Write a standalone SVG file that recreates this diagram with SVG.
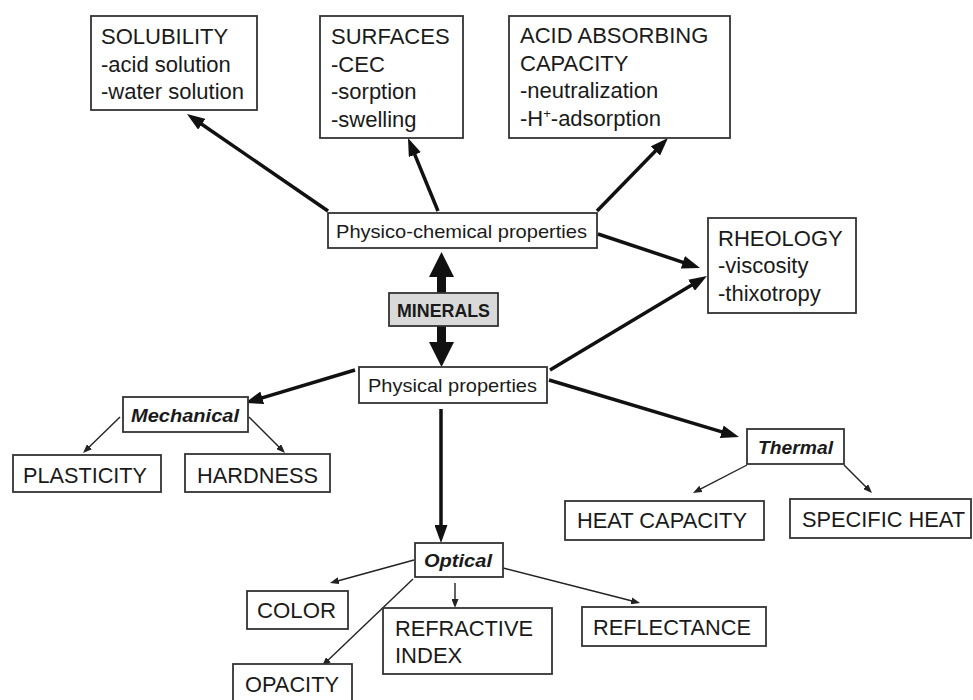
<svg xmlns="http://www.w3.org/2000/svg" width="973" height="700" viewBox="0 0 973 700">
<style>
  .box { fill: #ffffff; stroke: #333333; stroke-width: 1.8; }
  .grey { fill: #d9d9d9; }
  .t { font-family: "Liberation Sans", Arial, sans-serif; font-size: 22px; fill: #1a1a1a; }
  .m { font-family: "Liberation Sans", Arial, sans-serif; font-size: 18.5px; fill: #1a1a1a; }
  .bi { font-family: "Liberation Sans", Arial, sans-serif; font-size: 18px; font-weight: bold; font-style: italic; fill: #1a1a1a; }
  .b { font-family: "Liberation Sans", Arial, sans-serif; font-size: 17.5px; font-weight: bold; fill: #1a1a1a; }
  .thick { stroke: #111111; stroke-width: 3.5; fill: none; marker-end: url(#headL); }
  .thin { stroke: #222222; stroke-width: 1.4; fill: none; marker-end: url(#headS); }
</style>
<defs>
  <marker id="headL" markerUnits="userSpaceOnUse" markerWidth="18" markerHeight="13" refX="8" refY="6.5" orient="auto">
    <path d="M0,0 L18,6.5 L0,13 z" fill="#111111"/>
  </marker>
  <marker id="headS" markerUnits="userSpaceOnUse" markerWidth="9" markerHeight="7" refX="4" refY="3.5" orient="auto">
    <path d="M0,0 L9,3.5 L0,7 z" fill="#222222"/>
  </marker>
</defs>

<g id="connectors">
  <line class="thick" x1="328" y1="211" x2="195.2" y2="119.7"/>
  <line class="thick" x1="438" y1="211" x2="411.8" y2="147.3"/>
  <line class="thick" x1="597" y1="211" x2="661" y2="145.2"/>
  <line class="thick" x1="598" y1="234" x2="690.5" y2="264.8"/>
  <line class="thick" x1="550" y1="370" x2="698.4" y2="281.1"/>
  <line class="thick" x1="355" y1="370" x2="254.6" y2="400.1"/>
  <line class="thick" x1="549" y1="380" x2="729.4" y2="434.1"/>
  <line class="thick" x1="441" y1="409" x2="441" y2="533"/>
  <!-- double arrow MINERALS -->
  <rect x="437" y="276" width="9" height="17" fill="#111111"/>
  <polygon points="441.5,252 429,277 454,277" fill="#111111"/>
  <rect x="437" y="326" width="9" height="17" fill="#111111"/>
  <polygon points="441.5,367 429,342 454,342" fill="#111111"/>
  <!-- thin -->
  <line class="thin" x1="120" y1="417" x2="86.6" y2="449.5"/>
  <line class="thin" x1="249" y1="417" x2="281.5" y2="449.5"/>
  <line class="thin" x1="747" y1="465" x2="697.4" y2="490.7"/>
  <line class="thin" x1="844" y1="465" x2="868.5" y2="489.5"/>
  <line class="thin" x1="414" y1="560" x2="334.8" y2="581.7"/>
  <line class="thin" x1="455" y1="583" x2="455" y2="603"/>
  <line class="thin" x1="413" y1="579" x2="325.6" y2="662.5"/>
  <line class="thin" x1="503" y1="568" x2="635.2" y2="601.8"/>
</g>

<g id="solubility">
  <rect class="box" x="91" y="16" width="166" height="94"/>
  <text class="t" x="101" y="44">SOLUBILITY</text>
  <text class="t" x="101" y="72">-acid solution</text>
  <text class="t" x="101" y="99">-water solution</text>
</g>
<g id="surfaces">
  <rect class="box" x="320" y="16" width="143" height="122"/>
  <text class="t" x="331" y="44">SURFACES</text>
  <text class="t" x="331" y="72">-CEC</text>
  <text class="t" x="331" y="99">-sorption</text>
  <text class="t" x="331" y="127">-swelling</text>
</g>
<g id="acid">
  <rect class="box" x="509" y="16" width="221" height="122"/>
  <text class="t" x="520" y="43">ACID ABSORBING</text>
  <text class="t" x="520" y="70.5">CAPACITY</text>
  <text class="t" x="520" y="98">-neutralization</text>
  <text class="t" x="520" y="125.5">-H<tspan font-size="13" dy="-8">+</tspan><tspan dy="8">-adsorption</tspan></text>
</g>
<g id="rheology">
  <rect class="box" x="708" y="218" width="148" height="95"/>
  <text class="t" x="718" y="246">RHEOLOGY</text>
  <text class="t" x="718" y="273">-viscosity</text>
  <text class="t" x="718" y="301">-thixotropy</text>
</g>
<g id="physico">
  <rect class="box" x="328" y="213" width="269" height="35"/>
  <text class="m" x="336" y="238" textLength="251" lengthAdjust="spacingAndGlyphs">Physico-chemical properties</text>
</g>
<g id="minerals">
  <rect class="box grey" x="389" y="293" width="109" height="33"/>
  <text class="b" x="397" y="317" textLength="93" lengthAdjust="spacingAndGlyphs">MINERALS</text>
</g>
<g id="physical">
  <rect class="box" x="359" y="367" width="188" height="36"/>
  <text class="m" x="368" y="392" textLength="169" lengthAdjust="spacingAndGlyphs">Physical properties</text>
</g>
<g id="mechanical">
  <rect class="box" x="123" y="397" width="125" height="35"/>
  <text class="bi" x="131" y="422" textLength="108" lengthAdjust="spacingAndGlyphs">Mechanical</text>
</g>
<g id="thermal">
  <rect class="box" x="747" y="429" width="97" height="35"/>
  <text class="bi" x="758" y="454" textLength="75" lengthAdjust="spacingAndGlyphs">Thermal</text>
</g>
<g id="optical">
  <rect class="box" x="415" y="543" width="88" height="34"/>
  <text class="bi" x="424" y="567" textLength="68" lengthAdjust="spacingAndGlyphs">Optical</text>
</g>
<g id="plasticity">
  <rect class="box" x="13" y="455" width="148" height="37"/>
  <text class="t" x="23" y="483" textLength="124" lengthAdjust="spacingAndGlyphs">PLASTICITY</text>
</g>
<g id="hardness">
  <rect class="box" x="185" y="454" width="145" height="38"/>
  <text class="t" x="197" y="483" textLength="121" lengthAdjust="spacingAndGlyphs">HARDNESS</text>
</g>
<g id="heat-capacity">
  <rect class="box" x="565" y="501" width="199" height="39"/>
  <text class="t" x="577" y="528" textLength="170" lengthAdjust="spacingAndGlyphs">HEAT CAPACITY</text>
</g>
<g id="specific-heat">
  <rect class="box" x="790" y="499" width="181" height="39"/>
  <text class="t" x="802" y="527" textLength="163" lengthAdjust="spacingAndGlyphs">SPECIFIC HEAT</text>
</g>
<g id="color">
  <rect class="box" x="247" y="591" width="101" height="38"/>
  <text class="t" x="257" y="618" textLength="79" lengthAdjust="spacingAndGlyphs">COLOR</text>
</g>
<g id="refractive">
  <rect class="box" x="383" y="608" width="169" height="66"/>
  <text class="t" x="395" y="636" textLength="138" lengthAdjust="spacingAndGlyphs">REFRACTIVE</text>
  <text class="t" x="395" y="663">INDEX</text>
</g>
<g id="reflectance">
  <rect class="box" x="582" y="607" width="184" height="39"/>
  <text class="t" x="593" y="635" textLength="158" lengthAdjust="spacingAndGlyphs">REFLECTANCE</text>
</g>
<g id="opacity">
  <rect class="box" x="233" y="664" width="119" height="40"/>
  <text class="t" x="245" y="692" textLength="94" lengthAdjust="spacingAndGlyphs">OPACITY</text>
</g>
</svg>
